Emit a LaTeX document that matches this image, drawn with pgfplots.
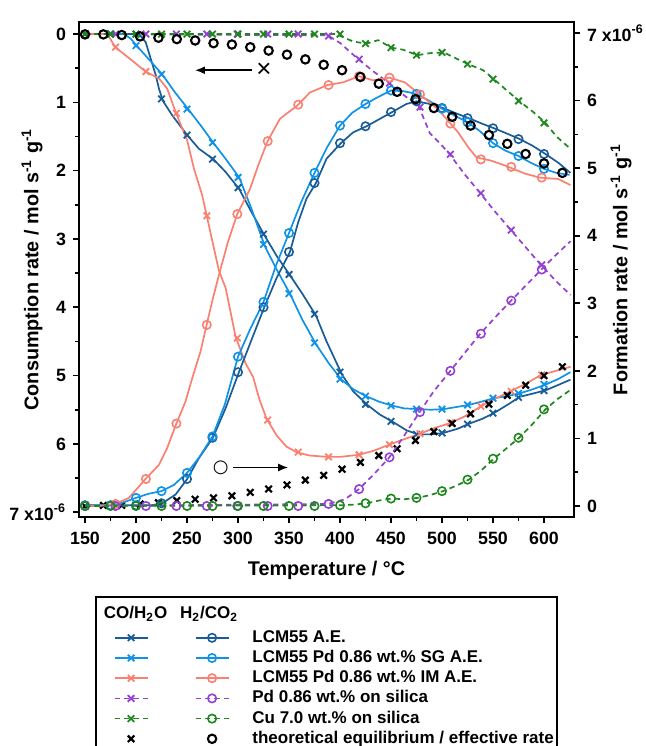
\documentclass[border=0pt]{standalone}
\usepackage{fontspec}
\setmainfont{Liberation Sans}
\newfontfamily\dejavu{DejaVu Sans}
\usepackage{pgfplots}
\pgfplotsset{compat=1.18}
\usetikzlibrary{calc,arrows.meta}
\definecolor{cDB}{RGB}{24,92,152}
\definecolor{cLB}{RGB}{16,146,230}
\definecolor{cSA}{RGB}{250,128,114}
\definecolor{cPU}{RGB}{148,64,210}
\definecolor{cGR}{RGB}{30,136,30}
\tikzset{dsh/.style={dash pattern=on 2.7pt off 2pt}}
\pgfplotsset{
  base/.style={
    scale only axis, width=247.5pt, height=247.5pt,
    xmin=144.1, xmax=629.4,
    tick align=outside,
    major tick length=3pt, minor tick length=1.75pt,
    tick style={black, line width=0.8pt},
    axis line style={line width=0.9pt},
    tick label style={font=\fontsize{8.9}{10}\selectfont\bfseries},
    label style={font=\fontsize{9.9}{11}\selectfont\bfseries},
    /pgf/number format/assume math mode=true,
    minor y tick num=1,
  },
  ln/.style={#1, line width=0.85pt, no marks},
  mx/.style={#1, only marks, mark=x, mark size=2.3pt, line width=0.9pt},
  mo/.style={#1, only marks, mark=o, mark size=2.1pt, line width=0.8pt},
  bx/.style={black, only marks, mark=x, mark size=2.3pt, line width=1.1pt},
  bo/.style={black, only marks, mark=o, mark size=2.1pt, line width=1.05pt},
}
\newcommand\legimg[2]{%
  \addlegendimage{legend image code/.code={
    \path (-7.5pt,0pt) (68.5pt,0pt);
    \draw[#1,line width=0.8pt,#2] (0pt,0pt) -- (16.5pt,0pt);
    \draw[#1,line width=0.8pt,#2] (40.5pt,0pt) -- (57pt,0pt);
    \draw[#1,line width=0.9pt,solid,mark=x,mark size=2.3pt,only marks] plot coordinates {(8.25pt,0pt)};
    \draw[#1,line width=0.8pt,solid,mark=o,mark size=2.1pt,only marks] plot coordinates {(48.75pt,0pt)};
  }}}
\begin{document}
\begin{tikzpicture}
% ---------- left axis: consumption ----------
\begin{axis}[base, name=ax,
  y dir=reverse, ymin=-0.176, ymax=7.07,
  xtick={150,200,...,600}, minor x tick num=1,
  xtick pos=left, ytick pos=left,
  xticklabel style={yshift=-1.2pt},
  ytick={0,1,2,3,4,5,6,7},
  yticklabels={0,1,2,3,4,5,6,{7 x10\textsuperscript{-6}}},
  xlabel={Temperature / °C},
  ylabel={Consumption rate / mol s\textsuperscript{-1} g\textsuperscript{-1}},
  xlabel style={at={(axis description cs:0.5,-0.107)}, anchor=center, inner sep=0pt},
  ylabel style={at={(axis description cs:-0.095,0.5)}, anchor=center, inner sep=0pt},
]
% LCM55 A.E.
\addplot[ln=cDB] coordinates {(150,0)(203,0)(209.5,0.12)(214.4,0.36)(219.3,0.60)(222.5,0.80)(226.4,0.98)(235.5,1.19)(250.2,1.48)(261.7,1.68)(275.7,1.83)(287.9,2.02)(301.2,2.27)(313,2.6)(326.4,2.96)(338,3.25)(350.9,3.53)(363,3.80)(376.4,4.12)(386.8,4.50)(402.1,4.99)(412.9,5.23)(426.9,5.43)(439,5.57)(452.1,5.68)(465.1,5.80)(476.3,5.86)(490,5.86)(501.1,5.84)(515,5.78)(527.3,5.70)(540,5.63)(551.8,5.54)(565,5.42)(576.3,5.31)(590,5.26)(602.4,5.21)(615,5.13)(625.9,5.06)};
\addplot[mx=cDB] coordinates {(150,0)(175,0)(200,0)(225,0.95)(250,1.48)(275,1.83)(300,2.25)(325,2.93)(350,3.52)(375,4.10)(400,4.95)(425,5.42)(450,5.67)(475,5.86)(500,5.84)(525,5.71)(550,5.55)(575,5.32)(600,5.22)};
% SG
\addplot[ln=cLB] coordinates {(150,0)(188,0)(195,0.07)(200.6,0.17)(212,0.36)(225.7,0.59)(238,0.85)(251.2,1.10)(263,1.33)(275.7,1.59)(288,1.83)(301.2,2.10)(313,2.55)(326.4,3.11)(338,3.45)(350.9,3.80)(363,4.18)(376.4,4.54)(389,4.82)(401.5,5.06)(413,5.20)(425.4,5.30)(438,5.38)(451.1,5.44)(463,5.48)(475.9,5.49)(489,5.50)(502,5.49)(514,5.46)(526.3,5.43)(539,5.38)(551.1,5.33)(564,5.30)(576.3,5.26)(589,5.20)(601.7,5.13)(614,5.05)(625.9,4.95)};
\addplot[mx=cLB] coordinates {(150,0)(175,0)(200,0.17)(225,0.59)(250,1.10)(275,1.59)(300,2.10)(325,3.08)(350,3.80)(375,4.52)(400,5.05)(425,5.30)(450,5.44)(475,5.49)(500,5.49)(525,5.43)(550,5.33)(575,5.26)(600,5.13)};
% IM
\addplot[ln=cSA] coordinates {(150,0)(172,0)(179.4,0.19)(196.3,0.39)(209.4,0.55)(222.5,0.65)(230.6,0.80)(238.8,1.14)(250.2,1.56)(256.8,1.97)(264.9,2.36)(269.2,2.65)(281.2,3.46)(287.9,3.72)(297.6,4.43)(307.4,4.82)(314.8,5.02)(321,5.35)(328,5.63)(338,5.88)(347.5,6.04)(357.3,6.12)(370,6.17)(388,6.19)(400,6.19)(418,6.16)(433,6.10)(448.5,6.01)(463,5.93)(477,5.86)(492,5.77)(507,5.70)(522,5.60)(537,5.46)(552,5.34)(567,5.23)(582,5.12)(597,4.99)(612,4.93)(626,4.87)};
\addplot[mx=cSA] coordinates {(150,0)(179.9,0.19)(209.7,0.55)(239.6,1.16)(269.4,2.66)(299.3,4.45)(329.1,5.65)(359,6.12)(388.8,6.19)(418.7,6.16)(448.5,6.01)(478.4,5.85)(508.2,5.69)(538.1,5.45)(567.9,5.23)(597.8,4.99)};
% Pd silica
\addplot[ln=cPU, dsh] coordinates {(150,0)(388,0.02)(400,0.13)(418,0.37)(433,0.55)(448,0.72)(463,0.90)(477,1.05)(488,1.45)(498,1.60)(507,1.75)(522,2.05)(537,2.32)(552,2.60)(567,2.86)(582,3.12)(597,3.38)(612,3.62)(626,3.82)};
\addplot[mx=cPU] coordinates {(150,0)(179.9,0)(209.7,0)(239.6,0)(269.4,0)(299.3,0)(329.1,0)(359,0)(388.8,0.03)(418.7,0.37)(448.5,0.72)(478.4,1.07)(508.2,1.76)(538.1,2.33)(567.9,2.87)(597.8,3.38)};
% Cu silica
\addplot[ln=cGR, dsh] coordinates {(150,0)(396,0)(412.9,0.11)(426,0.14)(437.4,0.09)(450.5,0.20)(461.9,0.23)(475.9,0.31)(488,0.28)(501.8,0.27)(514.2,0.36)(525.6,0.44)(540.3,0.53)(550.8,0.66)(563.1,0.82)(575.6,0.98)(589.3,1.14)(601.4,1.30)(612.2,1.50)(625.2,1.67)};
\addplot[mx=cGR] coordinates {(150,0)(175,0)(200,0)(225,0)(250,0)(275,0)(300,0)(325,0)(350,0)(375,0)(400,0)(425,0.14)(450,0.20)(475,0.31)(500,0.27)(525,0.44)(550,0.66)(575,0.98)(600,1.30)};
% theoretical equilibrium
\addplot[bx] coordinates {(150,6.91)(168,6.90)(186,6.90)(204,6.88)(222,6.86)(240,6.83)(258,6.81)(276,6.79)(294,6.76)(312,6.71)(330,6.66)(348,6.60)(366,6.53)(384,6.46)(402,6.37)(420,6.27)(438,6.17)(456,6.07)(474,5.95)(492,5.82)(510,5.70)(528,5.56)(546,5.42)(564,5.29)(582,5.14)(600,5.00)(618,4.87)};
\draw[-{Latex[length=5pt,width=4pt]}, line width=0.8pt] (axis cs:313.3,0.53) -- (axis cs:257.8,0.53);
\node[inner sep=0pt] at (axis cs:325.4,0.53) {\fontsize{13}{13}\selectfont ×};
\end{axis}
% ---------- right axis: formation ----------
\begin{axis}[base,
  axis x line=none, axis y line*=right,
  ymin=-0.163, ymax=7.163,
  ytick={0,1,2,3,4,5,6,7},
  yticklabels={0,1,2,3,4,5,6,{7 x10\textsuperscript{-6}}},
  ylabel={Formation rate / mol s\textsuperscript{-1} g\textsuperscript{-1}},
  ylabel style={at={(axis description cs:1.095,0.5)}, anchor=center, inner sep=0pt},
  legend style={at={(axis description cs:0.0323,-0.1596)}, anchor=north west,
    draw=black, line width=0.8pt, inner xsep=1.5pt, inner ysep=4.5pt,
    font=\fontsize{8.5}{9}\selectfont\bfseries, row sep=2.1pt,
    nodes={inner sep=0pt, text height=6.2pt, text depth=1.8pt}},
  legend cell align=left,
]
\addplot[ln=cDB, forget plot] coordinates {(150,0.01)(215,0.01)(225.7,0.04)(238.8,0.17)(250.2,0.40)(261.7,0.71)(275.4,1.01)(287.9,1.45)(300.9,1.98)(313,2.45)(325.7,2.94)(338,3.38)(350.9,3.76)(359,4.20)(367.2,4.55)(376.4,4.78)(386.8,5.14)(400.9,5.37)(412.9,5.53)(426,5.62)(439.1,5.73)(451.1,5.83)(465.1,5.95)(475,5.99)(488,5.95)(501.1,5.89)(514,5.81)(526.3,5.74)(539,5.66)(551.1,5.59)(564,5.51)(576.3,5.43)(589,5.33)(601.4,5.21)(614,5.08)(625.9,4.93)};
\addplot[mo=cDB, forget plot] coordinates {(150,0.01)(175,0.01)(200,0.01)(225,0.04)(250,0.40)(275,1.01)(300,1.98)(325,2.94)(350,3.76)(375,4.78)(400,5.37)(425,5.62)(450,5.83)(475,5.99)(500,5.89)(525,5.74)(550,5.59)(575,5.43)(600,5.21)};
\addplot[ln=cLB, forget plot] coordinates {(150,0.01)(176,0.01)(185,0.04)(200,0.12)(212,0.18)(225,0.22)(237,0.31)(250,0.49)(262,0.72)(275,1.03)(287,1.50)(300,2.21)(312,2.62)(325,3.02)(337,3.55)(350,4.04)(362,4.50)(375,4.93)(387,5.30)(400,5.63)(412,5.82)(425,5.95)(437,6.05)(450,6.15)(462,6.14)(475,6.10)(487,6.00)(500,5.88)(512,5.78)(525,5.68)(537,5.55)(550,5.37)(562,5.26)(575,5.18)(587,5.08)(600,4.99)(612,4.93)(625,4.90)};
\addplot[mo=cLB, forget plot] coordinates {(150,0.01)(175,0.01)(200,0.12)(225,0.22)(250,0.49)(275,1.03)(300,2.21)(325,3.02)(350,4.04)(375,4.93)(400,5.63)(425,5.95)(450,6.15)(475,6.10)(500,5.88)(525,5.68)(550,5.37)(575,5.18)(600,4.99)};
\addplot[ln=cSA, forget plot] coordinates {(150,0)(164,0)(179.4,0.03)(193,0.12)(209.4,0.40)(222.5,0.61)(230.6,0.86)(238.8,1.19)(248.6,1.55)(255.1,1.89)(263.3,2.29)(268.9,2.66)(274.7,3.03)(281.3,3.42)(290,3.90)(299.2,4.32)(311.7,4.69)(320,5.05)(329,5.40)(341.1,5.73)(358.3,5.93)(370.5,6.12)(387.7,6.23)(403,6.27)(418.5,6.36)(432.5,6.30)(448.2,6.34)(463.6,6.27)(473.4,6.15)(483.2,6.03)(496.2,5.87)(506,5.70)(515.8,5.53)(525.6,5.31)(533.8,5.16)(548.4,5.11)(561.6,5.04)(581.2,4.92)(595.9,4.86)(613.8,4.84)(625.9,4.75)};
\addplot[mo=cSA, forget plot] coordinates {(150,0)(179.9,0.03)(209.7,0.40)(239.6,1.22)(269.4,2.68)(299.3,4.32)(329.1,5.40)(359,5.94)(388.8,6.23)(418.7,6.36)(448.5,6.34)(478.4,6.09)(508.2,5.66)(538.1,5.13)(567.9,5.02)(597.8,4.86)};
\addplot[ln=cPU, dsh, forget plot] coordinates {(150,0)(388,0.03)(405,0.10)(418.5,0.25)(432,0.45)(447.9,0.71)(462,1.02)(477.6,1.38)(492,1.70)(507.7,1.99)(522,2.26)(537,2.54)(552,2.79)(567.1,3.03)(582,3.26)(596.8,3.49)(612,3.72)(626,3.92)};
\addplot[mo=cPU, forget plot] coordinates {(150,0)(179.9,0)(209.7,0)(239.6,0)(269.4,0)(299.3,0)(329.1,0)(359,0)(388.8,0.03)(418.7,0.25)(448.5,0.72)(478.4,1.39)(508.2,2.00)(538.1,2.55)(567.9,3.04)(597.8,3.50)};
\addplot[ln=cGR, dsh, forget plot] coordinates {(150,0)(400,0.01)(413,0.02)(426,0.04)(438,0.08)(450.5,0.11)(463,0.10)(475.9,0.12)(488,0.16)(501.1,0.22)(514,0.30)(526.3,0.39)(538,0.52)(550.8,0.70)(563,0.85)(575.6,1.01)(588,1.20)(601.4,1.43)(613,1.58)(625.2,1.71)};
\addplot[mo=cGR, forget plot] coordinates {(150,0)(175,0)(200,0)(225,0)(250,0)(275,0)(300,0)(325,0)(350,0)(375,0)(400,0.01)(425,0.04)(450,0.11)(475,0.12)(500,0.22)(525,0.39)(550,0.70)(575,1.01)(600,1.43)};
\addplot[bo, forget plot] coordinates {(150,6.98)(168,6.98)(186,6.97)(204,6.95)(222,6.93)(240,6.91)(258,6.89)(276,6.85)(294,6.83)(312,6.79)(330,6.74)(348,6.68)(366,6.61)(384,6.53)(402,6.45)(420,6.35)(438,6.25)(456,6.13)(474,6.02)(492,5.89)(510,5.76)(528,5.63)(546,5.49)(564,5.36)(582,5.21)(600,5.07)(618,4.93)};
\node[inner sep=0pt] at (axis cs:283,0.57) {\dejavu\bfseries\fontsize{9}{9}\selectfont ○};
\draw[-{Latex[length=5pt,width=4pt]}, line width=0.8pt] (axis cs:295.3,0.57) -- (axis cs:349.2,0.57);
% legend
\addlegendimage{legend image code/.code={
  \path (-7.5pt,-5.5pt) (68.5pt,0pt);
  \node[anchor=base] at (10.5pt,-2.5pt) {CO/H\textsubscript{2}O};
  \node[anchor=base] at (47.25pt,-2.5pt) {H\textsubscript{2}/CO\textsubscript{2}};
}}
\addlegendentry{}
\legimg{cDB}{solid}\addlegendentry{LCM55 A.E.}
\legimg{cLB}{solid}\addlegendentry{LCM55 Pd 0.86 wt.\% SG A.E.}
\legimg{cSA}{solid}\addlegendentry{LCM55 Pd 0.86 wt.\% IM A.E.}
\legimg{cPU}{dsh}\addlegendentry{Pd 0.86 wt.\% on silica}
\legimg{cGR}{dsh}\addlegendentry{Cu 7.0 wt.\% on silica}
\addlegendimage{legend image code/.code={
  \path (-7.5pt,0pt) (68.5pt,0pt);
  \draw[black,line width=1.1pt,mark=x,mark size=2.3pt,only marks] plot coordinates {(8.25pt,0pt)};
  \draw[black,line width=1.05pt,mark=o,mark size=2.1pt,only marks] plot coordinates {(48.75pt,0pt)};
}}
\addlegendentry{theoretical equilibrium / effective rate}
\end{axis}
\pgfresetboundingbox
\path[use as bounding box] ($(ax.south west)+(-39.5pt,-114.5pt)$) rectangle ($(ax.south west)+(283.5pt,258.5pt)$);
\end{tikzpicture}
\end{document}
